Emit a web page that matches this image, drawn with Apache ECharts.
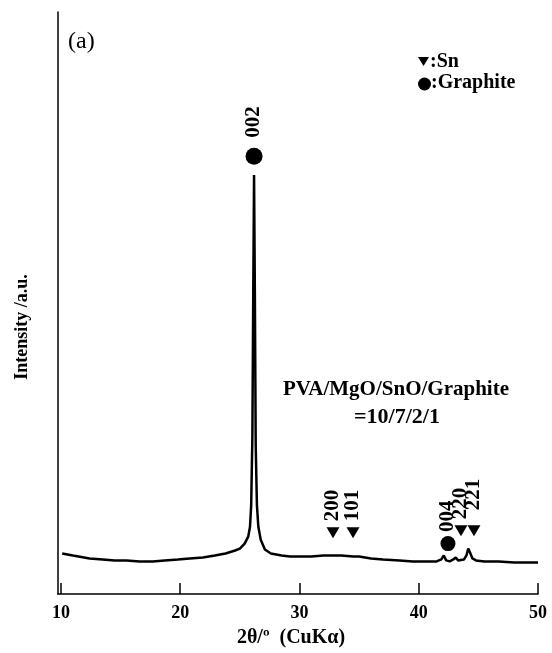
<!DOCTYPE html>
<html>
<head>
<meta charset="utf-8">
<script src="https://cdn.jsdelivr.net/npm/echarts@6/dist/echarts.min.js"></script>
<style>
  html, body { margin: 0; padding: 0; background: #fff; }
  #main { width: 552px; height: 653px; }
</style>
</head>
<body>
<div id="main"></div>
<script>
// XRD pattern, PVA/MgO/SnO/Graphite = 10/7/2/1
var twoTheta = [10.1, 11.0, 12.4, 13.5, 14.5, 15.5, 16.6, 17.7, 18.7, 19.8, 20.8, 21.9, 22.9, 23.8,
  24.6, 25.0, 25.4, 25.7, 25.85, 25.95, 26.05, 26.12, 26.19, 26.26, 26.33, 26.43, 26.55, 26.75,
  27.1, 27.6, 28.5, 29.2, 30.0, 31.0, 32.0, 32.5, 33.5, 34.5, 35.0, 36.0, 37.0, 38.4, 39.5,
  40.5, 41.5, 41.9, 42.1, 42.3, 42.6, 42.9, 43.1, 43.3, 43.8, 44.0, 44.15, 44.3, 44.5, 44.8,
  45.5, 46.7, 48.0, 49.0, 50.0];
var intensity = [41, 39, 36, 35, 34, 34, 33, 33, 34, 35, 36, 37, 39, 41,
  44, 46, 51, 58, 68, 90, 160, 300, 424, 300, 150, 90, 68, 55,
  45, 41, 39, 38, 38, 38, 39, 39, 39, 38, 38, 36, 35, 34, 33,
  33, 33, 35, 39, 34, 33, 35, 37, 34, 35, 39, 46, 42, 36, 34,
  33, 33, 32, 32, 32];

// peak markers: [2theta, height, hkl]
var graphitePeaks = [[26.19, 443, '002'], [42.45, 51, '004']];
var snPeaks = [[32.81, 62, '200'], [34.49, 62, '101'], [43.54, 64, '220'], [44.63, 64, '221']];
var xTicks = [10, 20, 30, 40, 50];

var serif = '"Liberation Serif", "Times New Roman", serif';
var labelFont = { color: '#000', fontFamily: serif, fontWeight: 'bold', fontSize: 21 };

var line = twoTheta.map(function (t, i) { return [t, intensity[i]]; });

function peakLabel(dist) {
  return Object.assign({
    show: true, position: 'top', rotate: 90, align: 'left', verticalAlign: 'middle',
    distance: dist, formatter: '{b}'
  }, labelFont);
}

var chart = echarts.init(document.getElementById('main'));
chart.setOption({
  animation: false,
  grid: { left: 58, right: 14, top: 12, bottom: 52 },
  xAxis: {
    type: 'value', min: 9.75, max: 50,
    axisLine: { lineStyle: { color: '#000', width: 1.5 } },
    axisTick: { inside: true, length: 11, customValues: xTicks, lineStyle: { color: '#000', width: 1.5 } },
    axisLabel: { customValues: xTicks, margin: 10, color: '#000', fontFamily: serif, fontWeight: 'bold', fontSize: 18 },
    splitLine: { show: false },
    name: '2θ/º  (CuKα)', nameLocation: 'middle', nameGap: 34,
    nameTextStyle: { color: '#000', fontFamily: serif, fontWeight: 'bold', fontSize: 20, padding: [0, 14, 0, 0] }
  },
  yAxis: {
    type: 'value', min: 0, max: 589,
    axisLine: { show: true, lineStyle: { color: '#000', width: 1.5 } },
    axisTick: { show: false },
    axisLabel: { show: false },
    splitLine: { show: false }
  },
  graphic: [
    { type: 'text', left: 68, top: 30, style: { text: '(a)', fill: '#000', font: '24px ' + serif } },
    { type: 'polygon', shape: { points: [[418, 57], [429, 57], [423.5, 66]] }, style: { fill: '#000' } },
    { type: 'text', x: 430, y: 62, style: { text: ':Sn', fill: '#000', font: 'bold 20px ' + serif, textVerticalAlign: 'middle' } },
    { type: 'circle', shape: { cx: 424.5, cy: 84, r: 6.5 }, style: { fill: '#000' } },
    { type: 'text', x: 431, y: 83, style: { text: ':Graphite', fill: '#000', font: 'bold 20px ' + serif, textVerticalAlign: 'middle' } },
    { type: 'text', x: 396, y: 390, style: { text: 'PVA/MgO/SnO/Graphite', fill: '#000', font: 'bold 21px ' + serif, textAlign: 'center', textVerticalAlign: 'middle' } },
    { type: 'text', x: 397, y: 417, style: { text: '=10/7/2/1', fill: '#000', font: 'bold 22px ' + serif, textAlign: 'center', textVerticalAlign: 'middle' } },
    { type: 'text', x: 22, y: 327, rotation: Math.PI / 2, style: { text: 'Intensity /a.u.', fill: '#000', font: 'bold 18px ' + serif, textAlign: 'center', textVerticalAlign: 'middle' } }
  ],
  series: [
    {
      type: 'line', data: line, showSymbol: false, symbol: 'none',
      lineStyle: { color: '#000', width: 2.5 }
    },
    {
      type: 'scatter', symbol: 'circle',
      itemStyle: { color: '#000', opacity: 1 },
      data: graphitePeaks.map(function (p, i) {
        return { name: p[2], value: [p[0], p[1]], symbolSize: i === 0 ? 17 : 15, label: peakLabel(i === 0 ? 10 : 4) };
      })
    },
    {
      type: 'scatter', symbol: 'triangle', symbolRotate: 180, symbolSize: [13, 11],
      itemStyle: { color: '#000', opacity: 1 },
      data: snPeaks.map(function (p) {
        return { name: p[2], value: [p[0], p[1]], label: peakLabel(p[2] === '221' ? 15 : 6) };
      })
    }
  ]
});
</script>
</body>
</html>
